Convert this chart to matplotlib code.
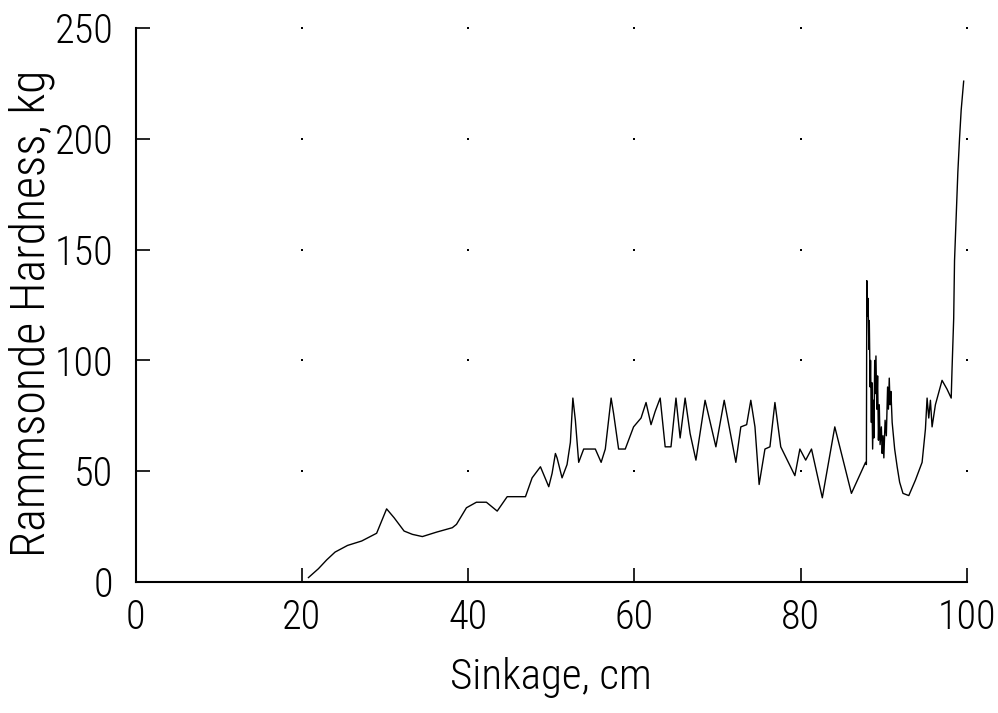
import numpy as np
import matplotlib as mpl
mpl.use('Agg')
import matplotlib.pyplot as plt

# penetrometer trace, sinkage (cm) vs hardness (kg)
sinkage = [
  20.8, 22.0, 23.0, 24.0, 25.5, 27.2, 29.0, 30.2, 31.1, 32.3,
  33.3, 34.5, 36.2, 38.1, 38.6, 39.8, 41.0, 42.2, 43.5, 44.7,
  46.9, 47.7, 48.7, 49.7, 50.1, 50.5, 50.7, 51.3, 51.9, 52.3,
  52.6, 52.9, 53.3, 53.9, 55.3, 56.0, 56.5, 57.2, 57.5, 58.1,
  58.9, 59.9, 60.8, 61.4, 62.0, 62.5, 63.1, 63.7, 64.4, 65.0,
  65.5, 66.1, 66.7, 67.4, 68.5, 69.8, 70.8, 72.2, 72.8, 73.5,
  74.0, 74.5, 75.0, 75.7, 76.3, 76.9, 77.6, 79.3, 79.9, 80.6,
  81.3, 82.6, 84.1, 86.1, 87.8, 87.9, 87.95, 88.05, 88.1, 88.2,
  88.25, 88.35, 88.4, 88.5, 88.55, 88.65, 88.75, 88.8, 88.9, 88.95,
  89.05, 89.15, 89.25, 89.35, 89.45, 89.55, 89.7, 89.8, 89.9, 90.0,
  90.15, 90.3, 90.45, 90.55, 90.65, 90.75, 90.85, 91.0, 91.3, 91.6,
  91.9, 92.3, 93.0, 93.8, 94.6, 95.0, 95.2, 95.4, 95.6, 95.8,
  96.2, 97.0, 97.6, 98.1, 98.2, 98.4, 98.5, 98.7, 98.9, 99.1,
  99.3, 99.6,
]
hardness = [
  2, 6, 10, 13.5, 16.5, 18.5, 22, 33, 29, 23,
  21.5, 20.5, 22.5, 24.5, 26, 33.5, 36, 36, 32, 38.5,
  38.5, 47, 52, 43, 49, 58, 56, 47, 53, 63,
  83, 73, 54, 60, 60, 54, 60, 83, 76, 60,
  60, 70, 74, 81, 71, 77, 83, 61, 61, 83,
  65, 83, 67, 55, 82, 61, 82, 54, 70, 71,
  82, 70, 44, 60, 61, 81, 61, 48, 60, 55,
  60, 38, 70, 40, 54, 53, 136, 120, 128, 105,
  118, 88, 100, 72, 90, 60, 82, 65, 100, 85,
  102, 78, 93, 64, 80, 62, 70, 58, 66, 56,
  73, 66, 88, 78, 92, 80, 86, 72, 60, 52,
  45, 40, 39, 46, 54, 69, 83, 74, 82, 70,
  80, 91, 87, 83, 96, 119, 145, 165, 185, 200,
  213, 226,
]

x_ticks = [0, 20, 40, 60, 80, 100]
y_ticks = [0, 50, 100, 150, 200, 250]

FONT = dict(family=['Roboto Condensed', 'DejaVu Sans'], weight='light')


def main():
  fig = plt.figure(figsize=(9.98, 7.13), dpi=100)
  ax = fig.add_axes([135.5 / 998, 131 / 713, (967 - 135.5) / 998, (582 - 28) / 713])

  ax.plot(sinkage, hardness, color='black', lw=1.0)

  # dotted grid: single dots at the tick crossings
  gx, gy = np.meshgrid(x_ticks[1:], y_ticks[1:])
  ax.scatter(gx.ravel(), gy.ravel(), s=2.5, marker='s', color='black',
             linewidths=0, clip_on=False)

  ax.set_xlim(0, 100)
  ax.set_ylim(0, 250)
  ax.set_xticks(x_ticks)
  ax.set_yticks(y_ticks)
  ax.tick_params(direction='in', length=10, width=1.2, color='black')
  ax.tick_params(axis='x', pad=12)
  ax.tick_params(axis='y', pad=16)
  for lab in ax.get_xticklabels() + ax.get_yticklabels():
    lab.set(fontsize=29, **FONT)

  for side in ['top', 'right']:
    ax.spines[side].set_visible(False)
  for side in ['left', 'bottom']:
    ax.spines[side].set_linewidth(1.5)

  ax.set_xlabel('Sinkage, cm', fontsize=31, labelpad=14, **FONT)
  ax.set_ylabel('Rammsonde Hardness, kg', fontsize=34.5, va='center', **FONT)
  ax.yaxis.set_label_coords(-0.125, 0.485)

  fig.savefig('out.png', dpi=100)


if __name__ == '__main__':
  main()
